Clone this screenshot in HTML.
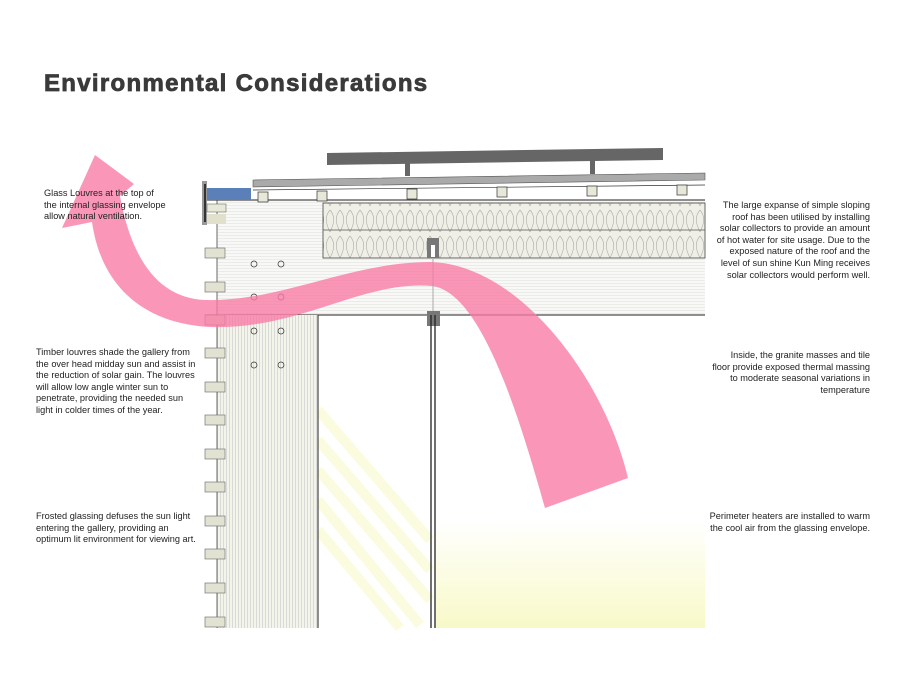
<!DOCTYPE html>
<html><head><style>
body{margin:0;width:900px;height:675px;background:#fff;position:relative;overflow:hidden;font-family:"Liberation Sans",sans-serif;}
.t{position:absolute;font-size:9.2px;line-height:11.6px;color:#222;}
.r{text-align:right;}
h1{position:absolute;left:44px;top:70px;margin:0;font-size:24px;font-weight:bold;color:#3a3a3a;letter-spacing:1.3px;-webkit-text-stroke:0.8px #3a3a3a;}
</style></head><body>
<h1>Environmental Considerations</h1>
<svg width="900" height="675" style="position:absolute;left:0;top:0">
<defs>
<pattern id="hs" width="6" height="3" patternUnits="userSpaceOnUse"><rect width="6" height="3" fill="#f8f8f6"/><line x1="0" y1="1.5" x2="6" y2="1.5" stroke="#dedede" stroke-width="0.5"/></pattern>
<pattern id="vs" width="3" height="6" patternUnits="userSpaceOnUse"><rect width="3" height="6" fill="#f4f5ea"/><line x1="1.5" y1="0" x2="1.5" y2="6" stroke="#c8c8cc" stroke-width="0.6"/></pattern>
<pattern id="ins" width="10" height="26" patternUnits="userSpaceOnUse"><rect width="10" height="26" fill="#f0efe6"/><path d="M0,2 C5,8 5,14 0,24 M10,2 C5,8 5,14 10,24" fill="none" stroke="#aaa" stroke-width="0.6"/></pattern>
<linearGradient id="yg" x1="0" y1="0" x2="0" y2="1"><stop offset="0" stop-color="#fff"/><stop offset="1" stop-color="#f8f9c8"/></linearGradient>
</defs>
<rect x="436" y="520" width="269" height="108" fill="url(#yg)"/>
<g stroke="#fbfbd8" stroke-width="10" opacity="0.8">
<line x1="318" y1="410" x2="430" y2="540"/><line x1="318" y1="440" x2="430" y2="570"/><line x1="318" y1="470" x2="430" y2="600"/><line x1="318" y1="500" x2="420" y2="625"/><line x1="318" y1="530" x2="400" y2="628"/>
</g>
<rect x="217" y="200" width="488" height="115" fill="url(#hs)"/>
<rect x="323" y="203" width="382" height="55" fill="url(#ins)" stroke="#444" stroke-width="0.8"/>
<line x1="323" y1="230" x2="705" y2="230" stroke="#555" stroke-width="0.8"/>
<line x1="205" y1="200" x2="705" y2="200" stroke="#222" stroke-width="1"/>
<line x1="205" y1="315" x2="705" y2="315" stroke="#222" stroke-width="1"/>
<rect x="217" y="315" width="101" height="313" fill="url(#vs)"/>
<line x1="318" y1="315" x2="318" y2="628" stroke="#222"/>
<line x1="217" y1="190" x2="217" y2="628" stroke="#444" stroke-width="0.8"/>
<rect x="427" y="238" width="12" height="20" fill="#777"/>
<rect x="431" y="245" width="4" height="12" fill="#fff"/>
<line x1="433" y1="258" x2="433" y2="315" stroke="#aaa"/>
<rect x="427" y="311" width="13" height="15" fill="#777"/>
<line x1="431" y1="315" x2="431" y2="628" stroke="#222" stroke-width="1.3"/>
<line x1="435" y1="315" x2="435" y2="628" stroke="#222" stroke-width="1.3"/>
<polygon points="327,153 663,148 663,160 327,165" fill="#666"/>
<rect x="405" y="163" width="5" height="13" fill="#666"/>
<rect x="590" y="160" width="5" height="14" fill="#666"/>
<polygon points="253,180 705,173 705,180 253,187" fill="#aaa" stroke="#555" stroke-width="0.6"/>
<line x1="253" y1="190" x2="705" y2="185" stroke="#333" stroke-width="0.7"/>
<g fill="#e8e8d8" stroke="#333" stroke-width="0.7">
<rect x="258" y="192" width="10" height="10"/><rect x="317" y="191" width="10" height="10"/><rect x="407" y="189" width="10" height="10"/><rect x="497" y="187" width="10" height="10"/><rect x="587" y="186" width="10" height="10"/><rect x="677" y="185" width="10" height="10"/>
</g>
<rect x="207" y="188" width="44" height="12" fill="#5b7fb8"/>
<rect x="202" y="181" width="5" height="44" fill="#999"/>
<rect x="204" y="184" width="2" height="38" fill="#333"/>
<rect x="207" y="204" width="19" height="8" fill="#e8e8d8" stroke="#555" stroke-width="0.5"/>
<rect x="207" y="214" width="19" height="10" fill="#e0e0cc"/>
<g fill="#e2e2d2" stroke="#666" stroke-width="0.6">
<rect x="205" y="248" width="20" height="10"/><rect x="205" y="282" width="20" height="10"/><rect x="205" y="315" width="20" height="10"/><rect x="205" y="348" width="20" height="10"/><rect x="205" y="382" width="20" height="10"/><rect x="205" y="415" width="20" height="10"/><rect x="205" y="449" width="20" height="10"/><rect x="205" y="482" width="20" height="10"/><rect x="205" y="516" width="20" height="10"/><rect x="205" y="549" width="20" height="10"/><rect x="205" y="583" width="20" height="10"/><rect x="205" y="617" width="20" height="10"/>
</g>
<g fill="none" stroke="#333" stroke-width="0.7">
<circle cx="254" cy="264" r="3"/><circle cx="281" cy="264" r="3"/><circle cx="254" cy="297" r="3"/><circle cx="281" cy="297" r="3"/><circle cx="254" cy="331" r="3"/><circle cx="281" cy="331" r="3"/><circle cx="254" cy="365" r="3"/><circle cx="281" cy="365" r="3"/>
</g>
<path d="M95,155 L134,184 L120,196 C132,262 160,298 205,300 C280,302 350,262 430,262 C520,264 605,380 628,478 L545,508 C520,420 482,292 432,286 C362,280 300,330 210,327 C150,324 102,292 92,222 L62,228 Z" fill="#f97aa4" opacity="0.78"/>
</svg>
<div class="t" style="left:44px;top:188px">Glass Louvres at the top of<br>the internal glassing envelope<br>allow natural ventilation.</div>
<div class="t" style="left:36px;top:347px">Timber louvres shade the gallery from<br>the over head midday sun and assist in<br>the reduction of solar gain. The louvres<br>will allow low angle winter sun to<br>penetrate, providing the needed sun<br>light in colder times of the year.</div>
<div class="t" style="left:36px;top:511px">Frosted glassing defuses the sun light<br>entering the gallery, providing an<br>optimum lit environment for viewing art.</div>
<div class="t r" style="right:30px;top:200px">The large expanse of simple sloping<br>roof has been utilised by installing<br>solar collectors to provide an amount<br>of hot water for site usage. Due to the<br>exposed nature of the roof and the<br>level of sun shine Kun Ming receives<br>solar collectors would perform well.</div>
<div class="t r" style="right:30px;top:350px">Inside, the granite masses  and tile<br>floor provide exposed thermal massing<br>to moderate seasonal variations in<br>temperature</div>
<div class="t r" style="right:30px;top:511px">Perimeter heaters are installed to warm<br>the cool air from the glassing envelope.</div>
</body></html>
